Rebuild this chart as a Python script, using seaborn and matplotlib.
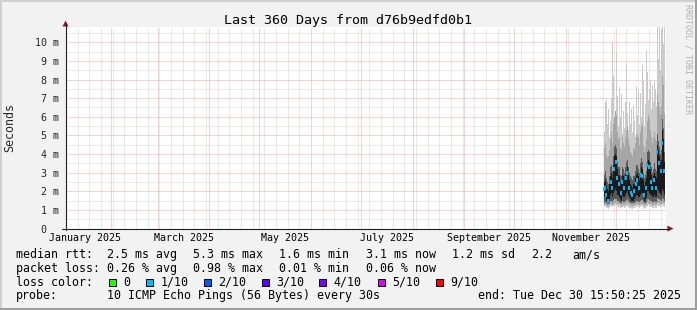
import numpy as np
import pandas as pd
import matplotlib
matplotlib.use("Agg")
import matplotlib.pyplot as plt
import matplotlib.dates as mdates
from matplotlib.patches import Rectangle, Polygon
from matplotlib.lines import Line2D
import seaborn as sns

# ---------------- data ----------------
title = "Last 360 Days from d76b9edfd0b1"
range_start = "2025-01-04 15:50:25"
range_end = "2025-12-30 15:50:25"
data_start = "2025-11-24 01:26"
y_ticks = [0, 1, 2, 3, 4, 5, 6, 7, 8, 9, 10]
y_tick_labels = ["0  ", "1 m", "2 m", "3 m", "4 m", "5 m", "6 m", "7 m", "8 m", "9 m", "10 m"]
x_labels = ["January 2025", "March 2025", "May 2025", "July 2025", "September 2025", "November 2025"]
x_label_months = ["2025-01", "2025-03", "2025-05", "2025-07", "2025-09", "2025-11"]

# median rtt (ms) per consolidated column
median_ms = [2.1, 2.2, 1.8, 1.7, 1.5, 1.9, 2.3, 2.5, 2.2, 2.8,
             3.2, 3.6, 3.6, 2.7, 2.5, 2.4, 2.1, 1.9, 2.5, 2.3,
             2.2, 2.5, 2.7, 3.0, 2.5, 2.2, 2.0, 1.9, 1.8, 1.9,
             2.0, 2.2, 2.4, 2.6, 2.4, 2.2, 2.6, 2.9, 2.8, 2.2,
             1.8, 2.0, 2.2, 3.4, 3.4, 3.3, 2.8, 2.5, 2.2, 2.4,
             2.6, 2.4, 2.2, 4.1, 3.8, 3.5, 3.2, 3.1, 4.6, 4.2,
             3.1]
# packet loss (%) per column
loss_pct = [0.4, 0.3, 0.5, 0.0, 0.6, 0.0, 0.0, 0.3, 0.4, 0.0,
            0.5, 0.0, 0.98, 0.4, 0.0, 0.3, 0.0, 0.5, 0.4, 0.0,
            0.3, 0.0, 0.6, 0.4, 0.0, 0.3, 0.0, 0.5, 0.3, 0.0,
            0.4, 0.0, 0.3, 0.5, 0.0, 0.4, 0.0, 0.3, 0.6, 0.0,
            0.5, 0.0, 0.3, 0.4, 0.0, 0.7, 0.0, 0.3, 0.4, 0.0,
            0.5, 0.0, 0.3, 0.8, 0.0, 0.4, 0.0, 0.3, 0.5, 0.0,
            0.06]
# smoke bands (ms)
smoke_max = [5.2, 6.8, 6.9, 5.6, 6.4, 4.9, 5.8, 7.0, 10.0, 8.2,
             5.9, 6.3, 9.4, 7.1, 5.5, 7.6, 6.0, 7.2, 5.1, 6.3,
             5.4, 6.8, 8.9, 6.2, 5.3, 6.8, 5.6, 6.4, 5.2, 6.6,
             5.8, 4.9, 7.6, 6.1, 7.4, 5.6, 7.3, 6.0, 8.8, 7.9,
             5.5, 6.7, 9.6, 8.4, 6.9, 7.5, 8.0, 6.4, 7.7, 6.8,
             7.9, 7.5, 6.6, 10.8, 9.1, 10.8, 8.5, 10.7, 10.8, 9.9,
             10.8]
smoke_min = [1.15, 1.2, 1.1, 1.1, 1.05, 1.1, 1.2, 1.2, 1.15, 1.2,
             1.2, 1.25, 1.2, 1.2, 1.15, 1.15, 1.1, 1.1, 1.15, 1.15,
             1.1, 1.15, 1.2, 1.2, 1.15, 1.1, 1.1, 1.05, 1.05, 1.1,
             1.1, 1.15, 1.15, 1.2, 1.15, 1.1, 1.15, 1.2, 1.2, 1.1,
             1.05, 1.1, 1.15, 1.2, 1.25, 1.2, 1.15, 1.15, 1.1, 1.1,
             1.15, 1.1, 1.1, 1.25, 1.2, 1.2, 1.15, 1.15, 1.25, 1.2,
             1.15]
mid_hi = [4.3, 4.6, 4.0, 3.8, 3.9, 4.2, 4.8, 5.2, 4.6, 5.6,
          6.0, 6.3, 6.1, 5.2, 4.8, 4.9, 4.3, 4.2, 4.9, 4.6,
          4.4, 4.9, 5.3, 5.5, 4.8, 4.5, 4.1, 4.0, 3.9, 4.3,
          4.2, 4.6, 5.0, 5.1, 4.9, 4.5, 5.2, 5.5, 5.6, 4.5,
          4.1, 4.4, 4.8, 5.8, 6.1, 5.9, 5.3, 4.9, 4.6, 4.9,
          5.2, 4.8, 4.7, 7.2, 6.8, 6.5, 6.1, 6.6, 8.2, 7.7,
          6.2]
mid_lo = [1.25, 1.3, 1.2, 1.2, 1.2, 1.25, 1.3, 1.3, 1.25, 1.3,
          1.35, 1.35, 1.35, 1.3, 1.3, 1.3, 1.25, 1.2, 1.3, 1.25,
          1.25, 1.3, 1.3, 1.35, 1.3, 1.25, 1.25, 1.2, 1.2, 1.2,
          1.25, 1.25, 1.3, 1.3, 1.25, 1.25, 1.3, 1.3, 1.3, 1.25,
          1.2, 1.25, 1.25, 1.35, 1.35, 1.3, 1.3, 1.3, 1.25, 1.25,
          1.3, 1.25, 1.25, 1.4, 1.35, 1.35, 1.3, 1.3, 1.4, 1.35,
          1.3]
dark_hi = [2.9, 3.1, 2.7, 2.5, 2.4, 2.8, 3.3, 3.4, 3.1, 3.9,
           4.4, 4.5, 4.3, 3.6, 3.3, 3.3, 2.9, 2.8, 3.3, 3.2,
           3.0, 3.3, 3.6, 3.7, 3.3, 3.0, 2.8, 2.7, 2.6, 2.8,
           2.8, 3.1, 3.4, 3.4, 3.2, 3.0, 3.5, 3.8, 3.6, 3.0,
           2.7, 2.9, 3.1, 4.1, 4.2, 4.1, 3.6, 3.3, 3.0, 3.2,
           3.5, 3.2, 3.1, 5.1, 4.7, 4.4, 4.0, 4.2, 5.9, 5.4,
           4.1]
dark_lo = [1.4, 1.45, 1.35, 1.3, 1.3, 1.4, 1.5, 1.5, 1.45, 1.55,
           1.6, 1.6, 1.6, 1.5, 1.5, 1.45, 1.4, 1.35, 1.5, 1.45,
           1.45, 1.5, 1.55, 1.6, 1.5, 1.45, 1.4, 1.35, 1.35, 1.35,
           1.4, 1.45, 1.5, 1.5, 1.45, 1.45, 1.5, 1.55, 1.55, 1.45,
           1.35, 1.4, 1.45, 1.6, 1.6, 1.55, 1.5, 1.5, 1.45, 1.45,
           1.5, 1.45, 1.45, 1.65, 1.6, 1.6, 1.55, 1.5, 1.65, 1.6,
           1.5]
black_hi = [2.5, 2.6, 2.3, 2.1, 2.0, 2.4, 2.8, 3.0, 2.7, 3.4,
            3.9, 4.0, 3.9, 3.2, 2.9, 2.8, 2.5, 2.4, 2.9, 2.8,
            2.6, 2.9, 3.1, 3.3, 2.9, 2.6, 2.4, 2.3, 2.2, 2.4,
            2.4, 2.7, 2.9, 3.0, 2.8, 2.6, 3.0, 3.3, 3.2, 2.6,
            2.3, 2.5, 2.7, 3.6, 3.7, 3.6, 3.2, 2.9, 2.6, 2.8,
            3.0, 2.8, 2.7, 4.5, 4.2, 3.9, 3.6, 3.7, 5.3, 4.8,
            3.6]
black_lo = [1.7, 1.8, 1.5, 1.5, 1.4, 1.6, 1.8, 1.9, 1.7, 1.9,
            2.0, 2.1, 2.0, 1.8, 1.8, 1.7, 1.6, 1.5, 1.8, 1.7,
            1.7, 1.8, 1.9, 2.0, 1.8, 1.7, 1.6, 1.5, 1.5, 1.5,
            1.6, 1.7, 1.8, 1.8, 1.7, 1.7, 1.8, 1.9, 1.9, 1.7,
            1.5, 1.6, 1.7, 2.0, 2.0, 1.9, 1.8, 1.8, 1.7, 1.7,
            1.8, 1.7, 1.7, 2.1, 2.0, 1.9, 1.9, 1.8, 2.1, 2.0,
            1.8]

# legend texts
rtt_stats = ["2.5 ms avg", "5.3 ms max", "1.6 ms min", "3.1 ms now", "1.2 ms sd", "2.2", "am/s"]
loss_stats = ["0.26 % avg", "0.98 % max", "0.01 % min", "0.06 % now"]
loss_names = ["0", "1/10", "2/10", "3/10", "4/10", "5/10", "9/10"]
loss_colors = ["#26ff00", "#00b8ff", "#0059ff", "#5e00ff", "#7e00ff", "#dd00ff", "#ff0000"]
probe_text = "10 ICMP Echo Pings (56 Bytes) every 30s"
end_text = "end: Tue Dec 30 15:50:25 2025"

# ---------------- figure ----------------
W, H = 697, 310
sns.set_style("white")
plt.rcParams["font.family"] = ["DejaVu Sans Mono"]
MONO = "DejaVu Sans Mono"

fig = plt.figure(figsize=(W / 100, H / 100), dpi=100, facecolor="#F2F2F2")

def fx(x):
    return x / W

def fy(y):
    return 1 - y / H

# border shades
fig.patches.append(Rectangle((0, fy(2)), 1, 2 / H, transform=fig.transFigure, color="#CFCFCF", lw=0))
fig.patches.append(Rectangle((0, 0), 2 / W, 1, transform=fig.transFigure, color="#CFCFCF", lw=0))
fig.patches.append(Rectangle((0, 0), 1, 2 / H, transform=fig.transFigure, color="#9E9E9E", lw=0))
fig.patches.append(Rectangle((fx(W - 2), 0), 2 / W, 1, transform=fig.transFigure, color="#9E9E9E", lw=0))

AX_L, AX_R, AX_B, AX_T = 65.5, 665.5, 228.6, 27.0
ax = fig.add_axes([fx(AX_L), fy(AX_B), (AX_R - AX_L) / W, (AX_B - AX_T) / H])
ax.set_facecolor("white")
for s in ax.spines.values():
    s.set_visible(False)

t0 = pd.Timestamp(range_start)
t1 = pd.Timestamp(range_end)

# grid: months (major, red) and weeks (minor, grey)
month_starts = pd.date_range("2025-02-01", "2025-12-01", freq="MS")
weeks = pd.date_range("2025-01-05", "2025-12-28", freq="7D")
ax.set_xticks(mdates.date2num(month_starts))
ax.set_xticks(mdates.date2num(weeks), minor=True)
ax.set_xticklabels([])
ax.set_yticks(y_ticks)
ax.set_yticks(np.arange(0.5, 10.6, 1.0), minor=True)
ax.set_yticklabels(y_tick_labels, family=MONO, fontsize=7.2)
ax.grid(which="minor", color="#D6D6D6", lw=0.72, ls=(0, (1, 1)), zorder=0)
ax.grid(which="major", color="#F0A6A6", lw=0.72, ls=(0, (1, 1)), zorder=0)
ax.set_axisbelow(True)
ax.tick_params(axis="both", which="both", direction="out", length=1.6, width=0.72,
               color="#1F1F1F", pad=2.3)
ax.tick_params(axis="y", which="major", length=2.2)

# x labels at month middles
for lab, m in zip(x_labels, x_label_months):
    ms = pd.Timestamp(m + "-01")
    me = ms + pd.offsets.MonthBegin(1)
    mid = ms + (me - ms) / 2
    ax.text(mdates.date2num(mid), (AX_B - 241) / (AX_B - AX_T), lab, transform=ax.get_xaxis_transform(),
            ha="center", va="baseline", family=MONO, fontsize=7.2, color="black")

# smoke
times = pd.date_range(data_start, periods=len(median_ms), freq="864min")
tn = mdates.date2num(times)
layers = [
    (smoke_min, smoke_max, "#CACACA"),
    (mid_lo, mid_hi, "#A6A6A6"),
    (dark_lo, dark_hi, "#5A5A5A"),
    (black_lo, black_hi, "#1A1A1A"),
]
for lo, hi, col in layers:
    lo = np.asarray(lo)
    hi = np.asarray(hi)
    ax.bar(tn, hi - lo, bottom=lo, width=0.62, color=col, linewidth=0, zorder=3, align="center")

# median coloured by loss
df = pd.DataFrame({"time": tn, "median": median_ms, "loss": loss_pct})
marked = df[df["loss"] > 0]
rect_marker = [(-0.6, -1.0), (0.6, -1.0), (0.6, 1.0), (-0.6, 1.0)]
sns.scatterplot(data=marked, x="time", y="median", ax=ax, color="#00b8ff", marker=rect_marker,
                s=7, linewidth=0, legend=False, zorder=5)
ax.set_xlabel("")
ax.set_ylabel("")
ax.set_xlim(mdates.date2num(t0), mdates.date2num(t1))
ax.set_ylim(0, 10.82)

# axes lines with arrows (figure pixel coords)
axis_col = "#1F1F1F"
arrow_col = "#8E1B1B"
fig.lines.append(Line2D([fx(AX_L), fx(AX_L)], [fy(AX_B + 1.5), fy(23)], transform=fig.transFigure,
                        color=axis_col, lw=0.8))
fig.lines.append(Line2D([fx(62), fx(669)], [fy(AX_B), fy(AX_B)], transform=fig.transFigure,
                        color=axis_col, lw=0.8))
fig.patches.append(Polygon([(fx(AX_L - 3), fy(26.5)), (fx(AX_L + 3), fy(26.5)), (fx(AX_L), fy(20.5))],
                           closed=True, transform=fig.transFigure, color=arrow_col, lw=0))
fig.patches.append(Polygon([(fx(667.5), fy(AX_B - 3)), (fx(667.5), fy(AX_B + 3)), (fx(673.5), fy(AX_B))],
                           closed=True, transform=fig.transFigure, color=arrow_col, lw=0))

# titles
fig.text(0.5, fy(24), title, ha="center", va="baseline", family=MONO, fontsize=9.6, color="black")
fig.text(fx(10), fy(127), "Seconds", rotation=90, ha="center", va="center", family=MONO, fontsize=8.4)
fig.text(fx(688), fy(4), "RRDTOOL / TOBI OETIKER", rotation=270, ha="center", va="top",
         family=MONO, fontsize=6.0, color="#B0B0B0")

# legend
FS = 8.4

def ltext(x, y, s):
    fig.text(fx(x), fy(y), s, ha="left", va="baseline", family=MONO, fontsize=FS, color="black")

ltext(16, 258, "median rtt:")
for s, x in zip(rtt_stats, [107, 193, 279, 366, 452, 531, 572]):
    ltext(x, 258, s)
ltext(16, 271.7, "packet loss:")
for s, x in zip(loss_stats, [107, 193, 279, 366]):
    ltext(x, 271.7, s)
ltext(16, 285.5, "loss color:")
box_x = [109, 146, 204, 262, 319, 378, 436]
lab_x = [123, 161, 218, 276, 333, 392, 450]
for name, col, bx, lx in zip(loss_names, loss_colors, box_x, lab_x):
    fig.patches.append(Rectangle((fx(bx), fy(286)), 7 / W, 7.5 / H, transform=fig.transFigure,
                                 facecolor=col, edgecolor="black", lw=0.7))
    ltext(lx, 285.5, name)
ltext(16, 299, "probe:")
ltext(107, 299, probe_text)
ltext(478, 299, end_text)

fig.savefig("out.png", dpi=100, facecolor=fig.get_facecolor())
